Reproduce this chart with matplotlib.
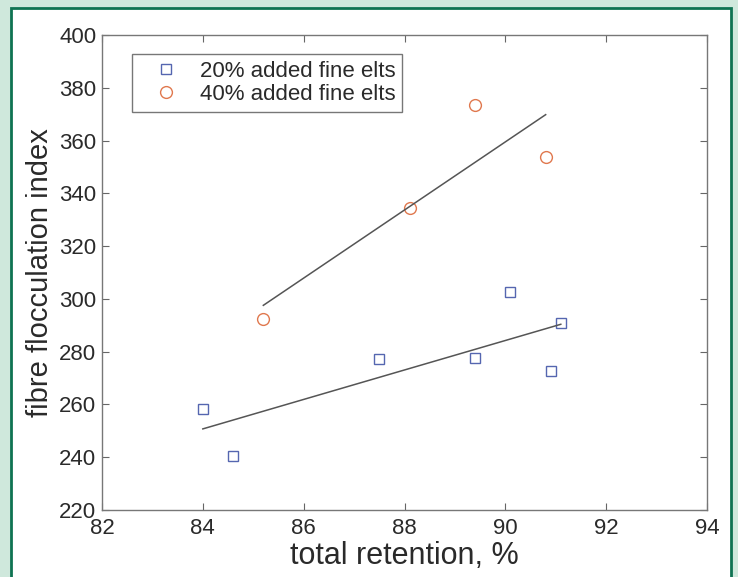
import numpy as np
import matplotlib
matplotlib.use('Agg')
import matplotlib.pyplot as plt
from matplotlib.patches import Rectangle

plt.rcParams['font.family'] = ['Liberation Sans', 'DejaVu Sans']

# 20% added fine elements
ret20 = [84.0, 84.6, 87.5, 89.4, 90.1, 90.9, 91.1]
ffi20 = [258.3, 240.5, 277.3, 277.7, 302.8, 272.8, 291.0]
# 40% added fine elements
ret40 = [85.2, 88.1, 89.4, 90.8]
ffi40 = [292.4, 334.4, 373.5, 353.8]

xticks = [82, 84, 86, 88, 90, 92, 94]
yticks = list(range(220, 401, 20))

fig = plt.figure(figsize=(7.38, 5.77), dpi=100)
fig.patch.set_facecolor('#cfe8dc')
W, H = 738, 577
# white inner panel with green frame
fig.patches.append(Rectangle((11/W, -0.05), (731-11)/W, 1.05-8/H, transform=fig.transFigure,
                             facecolor='white', edgecolor='#0f7352', linewidth=2, zorder=-5))

ax = fig.add_axes([102/W, 1-510/H, (707-102)/W, (510-35)/H])
ax.set_zorder(1)
ax.set_facecolor('white')

blue = '#5566b0'
orange = '#e0784e'
ax.plot(ret20, ffi20, 's', mfc='none', mec=blue, ms=7, mew=1.0, label='20% added fine elts')
ax.plot(ret40, ffi40, 'o', mfc='none', mec=orange, ms=8.5, mew=1.0, label='40% added fine elts')

for xs, ys in [(ret20, ffi20), (ret40, ffi40)]:
    p = np.polyfit(xs, ys, 1)
    xx = np.array([min(xs), max(xs)])
    ax.plot(xx, np.polyval(p, xx), color='#555555', lw=1.1)

ax.set_xlim(82, 94)
ax.set_ylim(220, 400)
ax.set_xticks(xticks)
ax.set_yticks(yticks)
ax.tick_params(direction='in', top=True, right=True, length=5, width=0.8,
               color='#666666', labelsize=16, labelcolor='#2a2a2a')
ax.tick_params(axis='y', pad=4)
ax.tick_params(axis='x', pad=6)
for s in ax.spines.values():
    s.set_color('#777777')
    s.set_linewidth(1.0)

ax.set_xlabel('total retention, %', fontsize=22, color='#2a2a2a', labelpad=1)
ax.set_ylabel('fibre flocculation index', fontsize=21, color='#2a2a2a', labelpad=4)

leg = ax.legend(loc='upper left', bbox_to_anchor=(0.05, 0.96), fontsize=16,
                frameon=True, fancybox=False, edgecolor='#555555',
                handlelength=2.4, handletextpad=0.35, borderpad=0.3, labelspacing=0.1,
                borderaxespad=0)
leg.get_frame().set_linewidth(1.0)
for t in leg.get_texts():
    t.set_color('#2a2a2a')

fig.savefig('out.png', dpi=100, facecolor=fig.get_facecolor())
